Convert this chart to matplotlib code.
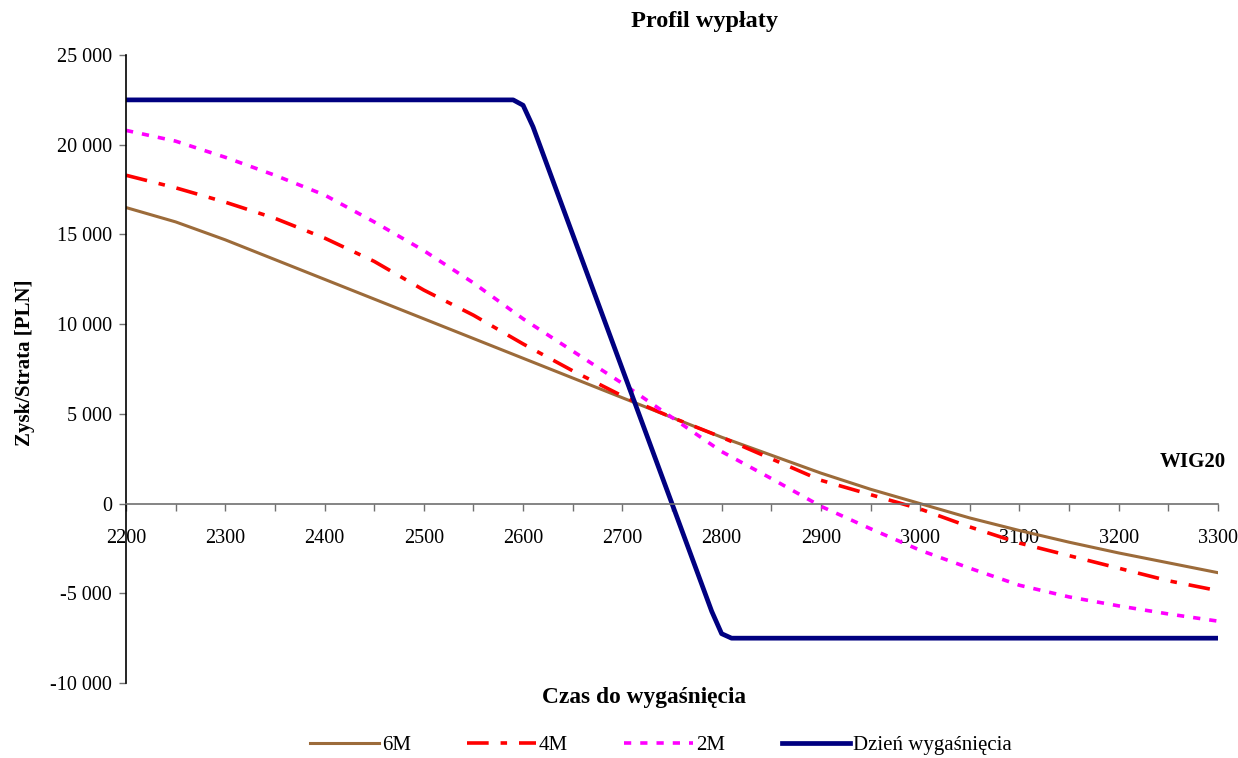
import matplotlib
matplotlib.use('Agg')
import matplotlib.pyplot as plt
from matplotlib.ticker import FuncFormatter, MultipleLocator

plt.rcParams['font.family'] = ['Liberation Serif', 'DejaVu Serif']

# dane
wig = [2200, 2250, 2300, 2350, 2400, 2450, 2500, 2550, 2600, 2650, 2700, 2750,
       2800, 2850, 2900, 2950, 3000, 3050, 3100, 3150, 3200, 3250, 3300]
m6 = [16500, 15700, 14700, 13600, 12500, 11400, 10300, 9200, 8100, 7000, 5900, 4800,
      3700, 2700, 1700, 800, 0, -800, -1500, -2150, -2750, -3300, -3850]
m4 = [18300, 17600, 16800, 15900, 14800, 13500, 11900, 10500, 8900, 7400, 6000, 4800,
      3700, 2500, 1300, 500, -300, -1300, -2200, -2900, -3600, -4300, -4850]
m2 = [20800, 20200, 19300, 18300, 17200, 15700, 14100, 12300, 10300, 8500, 6700, 4800,
      2900, 1400, -150, -1400, -2600, -3600, -4550, -5200, -5700, -6150, -6550]

wig_exp = [2200, 2590, 2600, 2610, 2620, 2630, 2640, 2700, 2750, 2780, 2790, 2800, 2810, 3300]
expiry = [22500, 22500, 22200, 21000, 19500, 18000, 16500, 7500, 0, -4500, -6000, -7250, -7500, -7500]

labels = ['6M', '4M', '2M', 'Dzień wygaśnięcia']

fig = plt.figure(figsize=(12.38, 7.58), dpi=100)
ax = fig.add_axes([0.1018, 0.0989, 0.8820, 0.8285])

ax.plot(wig, m6, color='#9C6B3A', lw=2.2, label=labels[0])
ax.plot(wig, m4, color='#FF0000', lw=2.6, dashes=(6, 3.3, 1.8, 3.3), label=labels[1])
ax.plot(wig, m2, color='#FF00FF', lw=2.6, dashes=(2, 2.5), label=labels[2])
ax.plot(wig_exp, expiry, color='#000080', lw=3.4, label=labels[3])

ax.set_xlim(2200, 3300)
ax.set_ylim(-10000, 25000)

ax.spines['top'].set_visible(False)
ax.spines['right'].set_visible(False)
ax.spines['bottom'].set_position(('data', 0))
ax.spines['bottom'].set_color('#707070')
ax.spines['bottom'].set_linewidth(1.2)
ax.spines['left'].set_linewidth(1.2)

ax.xaxis.set_major_locator(MultipleLocator(100))
ax.xaxis.set_minor_locator(MultipleLocator(50))
ax.yaxis.set_major_locator(MultipleLocator(5000))
ax.yaxis.set_major_formatter(FuncFormatter(lambda v, p: f'{int(v):,}'.replace(',', ' ')))

ax.tick_params(axis='x', which='both', direction='out', length=5, width=1, color='#707070',
               labelsize=14.5, pad=13)
ax.tick_params(axis='y', direction='out', length=5, width=1, color='#707070', labelsize=14.5, pad=5)

fig.text(0.569, 0.971, 'Profil wypłaty', ha='center', va='center', fontsize=17.5, fontweight='bold')
fig.text(0.020, 0.521, 'Zysk/Strata [PLN]', ha='center', va='center', rotation=90,
         fontsize=15, fontweight='bold')
fig.text(0.520, 0.080, 'Czas do wygaśnięcia', ha='center', va='center', fontsize=16.8,
         fontweight='bold')
fig.text(0.990, 0.390, 'WIG20', ha='right', va='center', fontsize=15, fontweight='bold')

fig.legend(loc='center', bbox_to_anchor=(0.534, 0.017), ncol=4, frameon=False, fontsize=15,
           handlelength=3.3, handletextpad=0.15, columnspacing=2.7)

fig.savefig('out.png', dpi=100)
